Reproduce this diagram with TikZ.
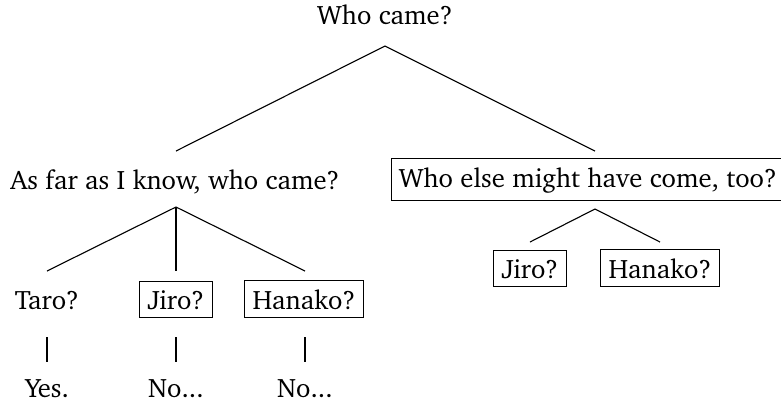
\documentclass[tikz,border=0pt]{standalone}
\usepackage[T1]{fontenc}
\usepackage{charter}
\begin{document}
\begin{tikzpicture}[x=0.36pt,y=-0.36pt,
  lab/.style={anchor=base,inner sep=0pt,font=\fontsize{9.6}{11.5}\selectfont},
  boxed/.style={anchor=base,draw,inner xsep=2.8pt,inner ysep=3pt,line width=0.4pt,font=\fontsize{9.6}{11.5}\selectfont},
  edge/.style={line width=0.4pt}]
\useasboundingbox (0,0) rectangle (781,405);
% nodes
\node[lab] (q) at (385,24) {Who came?};
\node[lab] (l) at (175,189) {As far as I know, who came?};
\node[boxed] (r) at (588,187) {Who else might have come, too?};
\node[boxed] (rj) at (530,278) {Jiro?};
\node[boxed] (rh) at (660,278) {Hanako?};
\node[lab] (t) at (47,309) {Taro?};
\node[boxed] (j) at (176,309) {Jiro?};
\node[boxed] (h) at (304,309) {Hanako?};
\node[lab] (y) at (47,397) {Yes.};
\node[lab] (n1) at (176,397) {No...};
\node[lab] (n2) at (305,397) {No...};
% edge attachment points
\coordinate (q-b) at (385,46);
\coordinate (l-t) at (176,151);
\coordinate (r-t) at (595,151);
\coordinate (l-b) at (176,207);
\coordinate (t-t) at (47,271);
\coordinate (j-t) at (176,271);
\coordinate (h-t) at (305,271);
\coordinate (r-b) at (595,209);
\coordinate (rj-t) at (530,242);
\coordinate (rh-t) at (660,242);
\coordinate (t-b) at (47,337);
\coordinate (y-t) at (47,362);
\coordinate (j-b) at (176,337);
\coordinate (n1-t) at (176,362);
\coordinate (h-b) at (305,337);
\coordinate (n2-t) at (305,362);
% edges
\draw[edge] (l-t) -- (q-b) -- (r-t);
\draw[edge] (t-t) -- (l-b) -- (h-t);
\draw[edge] (l-b) -- (j-t);
\draw[edge] (rj-t) -- (r-b) -- (rh-t);
\draw[edge] (t-b) -- (y-t);
\draw[edge] (j-b) -- (n1-t);
\draw[edge] (h-b) -- (n2-t);
\end{tikzpicture}
\end{document}
